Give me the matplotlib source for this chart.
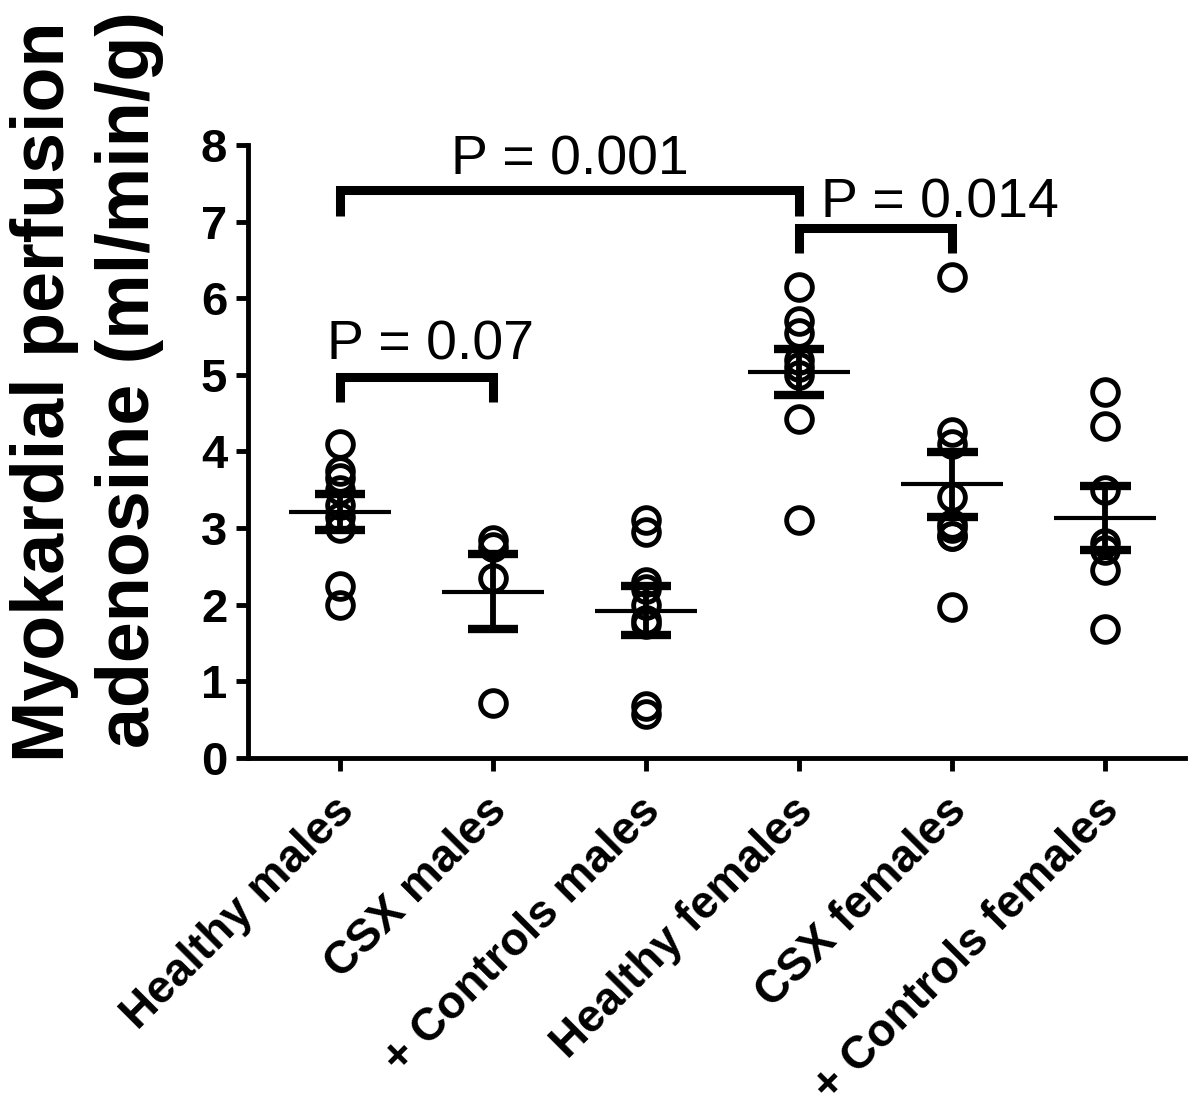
import numpy as np
import matplotlib
matplotlib.use("Agg")
import matplotlib.pyplot as plt
import matplotlib.transforms as mtransforms

plt.rcParams['font.family'] = ['Liberation Sans', 'DejaVu Sans']

# --- data ---
groups = ["Healthy males", "CSX males", "+ Controls males",
          "Healthy females", "CSX females", "+ Controls females"]

healthy_males = [4.1, 3.75, 3.65, 3.5, 3.3, 3.15, 3.0, 2.25, 2.0]
csx_males = [2.85, 2.75, 2.35, 0.72]
controls_males = [3.1, 2.95, 2.3, 2.2, 2.0, 1.8, 1.75, 0.68, 0.58]
healthy_females = [6.15, 5.7, 5.55, 5.2, 5.1, 5.0, 4.42, 3.1]
csx_females = [6.28, 4.25, 4.1, 3.4, 3.05, 3.0, 2.9, 2.9, 1.97]
controls_females = [4.78, 4.33, 3.5, 2.8, 2.72, 2.45, 1.68]

means = [3.21, 2.17, 1.92, 5.04, 3.57, 3.13]
sems = [0.24, 0.49, 0.32, 0.30, 0.42, 0.42]

# comparisons: (group a, group b, bracket height, text, text x, text y)
comparisons = [
    (0, 3, 7.41, "P = 0.001", 1.50, 7.61),
    (3, 4, 6.92, "P = 0.014", 3.92, 7.06),
    (0, 1, 4.97, "P = 0.07", 0.59, 5.20),
]

values = [healthy_males, csx_males, controls_males,
          healthy_females, csx_females, controls_females]

fig = plt.figure(figsize=(12, 11.13), dpi=100)
ax = fig.add_axes([0.2067, 0.319, 0.7808, 0.5507])

for i, vals in enumerate(values):
    ax.plot([i] * len(vals), vals, 'o', ms=18.5, mfc='none', mec='black',
            mew=3.5, zorder=2)
    # mean line
    ax.plot([i - 0.333, i + 0.333], [means[i], means[i]], color='black',
            lw=3.0, solid_capstyle='butt', zorder=3)
    # SEM
    lo, hi = means[i] - sems[i], means[i] + sems[i]
    ax.plot([i, i], [lo, hi], color='black', lw=4.2,
            solid_capstyle='butt', zorder=3)
    for y in (lo, hi):
        ax.plot([i - 0.165, i + 0.165], [y, y], color='black', lw=6,
                solid_capstyle='butt', zorder=3)

# significance brackets
for a, b, h, txt, tx, ty in comparisons:
    ax.plot([a, a, b, b], [h - 0.33, h, h, h - 0.33], color='black',
            lw=6.5, solid_joinstyle='miter', solid_capstyle='butt', zorder=4)
    ax.text(tx, ty, txt, ha='center', va='baseline', fontsize=40)

ax.set_xlim(-0.6, 5.52)
ax.set_ylim(0, 8)
ax.set_yticks(range(0, 9))
ax.set_xticks(range(len(groups)))
ax.set_xticklabels(groups, rotation=45, ha='right', va='top',
                   rotation_mode='anchor', fontweight='bold', fontsize=33)
ax.tick_params(axis='y', labelsize=34, width=3.5, length=9, pad=6)
ax.tick_params(axis='x', width=3.5, length=9, pad=10)
for lab in ax.get_yticklabels():
    lab.set_fontweight('bold')
shift = mtransforms.ScaledTranslation(-8 / 100, -4 / 100, fig.dpi_scale_trans)
for lab in ax.get_xticklabels():
    lab.set_transform(lab.get_transform() + shift)

for s in ('top', 'right'):
    ax.spines[s].set_visible(False)
for s in ('left', 'bottom'):
    ax.spines[s].set_linewidth(3.5)

fig.text(0.0375, 0.648, "Myokardial perfusion", rotation=90, ha='center',
         va='center', fontsize=53, fontweight='bold')
fig.text(0.108, 0.659, "adenosine (ml/min/g)", rotation=90, ha='center',
         va='center', fontsize=53, fontweight='bold')

fig.savefig('out.png', dpi=100)
